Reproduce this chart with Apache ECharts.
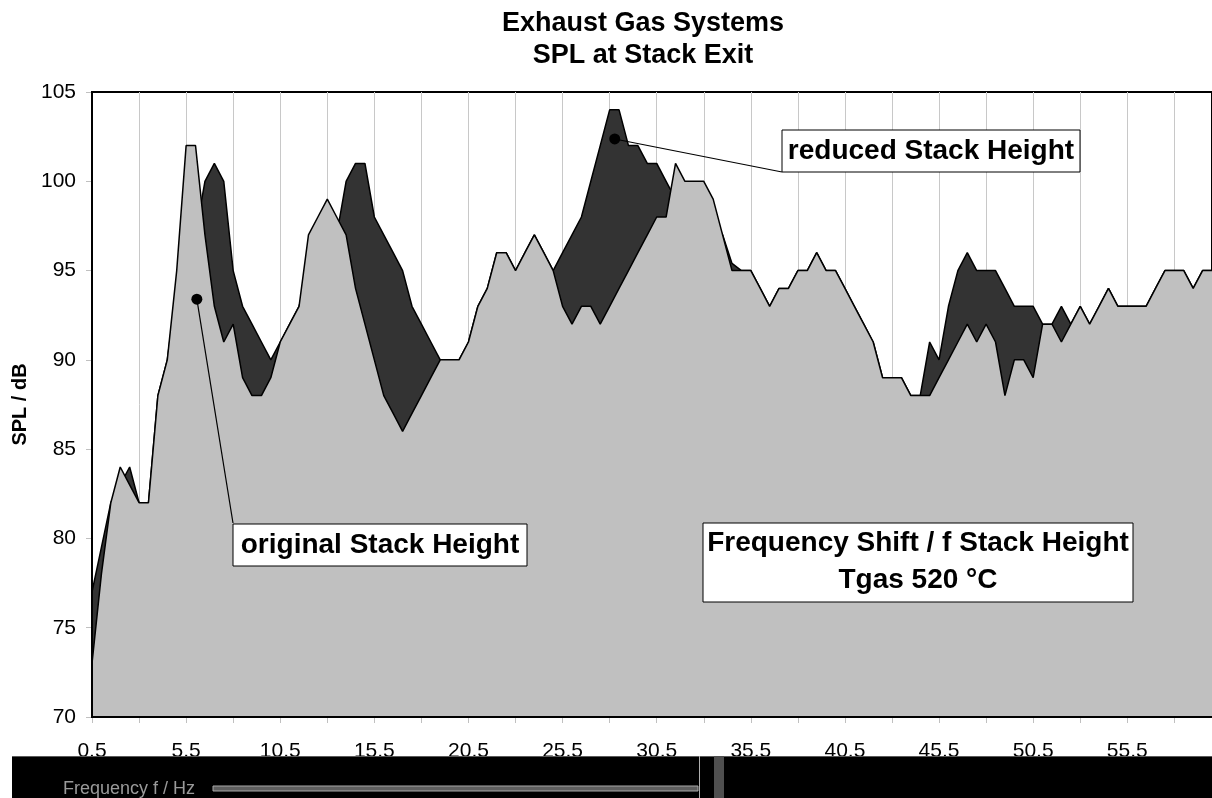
<!DOCTYPE html>
<html>
<head>
<meta charset="utf-8">
<script src="https://cdn.jsdelivr.net/npm/echarts@6/dist/echarts.min.js"></script>
<style>
html,body{margin:0;padding:0;background:#fff;}
#c{width:1212px;height:798px;}
</style>
</head>
<body>
<div id="c"></div>
<script>
// ---- data ----
const categories = [
 '0.5','1.0','1.5','2.0','2.5','3.0','3.5','4.0','4.5','5.0',
 '5.5','6.0','6.5','7.0','7.5','8.0','8.5','9.0','9.5','10.0',
 '10.5','11.0','11.5','12.0','12.5','13.0','13.5','14.0','14.5','15.0',
 '15.5','16.0','16.5','17.0','17.5','18.0','18.5','19.0','19.5','20.0',
 '20.5','21.0','21.5','22.0','22.5','23.0','23.5','24.0','24.5','25.0',
 '25.5','26.0','26.5','27.0','27.5','28.0','28.5','29.0','29.5','30.0',
 '30.5','31.0','31.5','32.0','32.5','33.0','33.5','34.0','34.5','35.0',
 '35.5','36.0','36.5','37.0','37.5','38.0','38.5','39.0','39.5','40.0',
 '40.5','41.0','41.5','42.0','42.5','43.0','43.5','44.0','44.5','45.0',
 '45.5','46.0','46.5','47.0','47.5','48.0','48.5','49.0','49.5','50.0',
 '50.5','51.0','51.5','52.0','52.5','53.0','53.5','54.0','54.5','55.0',
 '55.5','56.0','56.5','57.0','57.5','58.0','58.5','59.0','59.5','60.0'
];
const originalStack = [
 73,78,82,84,83,82,82,88,90,95,
 102,102,97,93,91,92,89,88,88,89,
 91,92,93,97,98,99,98,97,94,92,
 90,88,87,86,87,88,89,90,90,90,
 91,93,94,96,96,95,96,97,96,95,
 93,92,93,93,92,93,94,95,96,97,
 98,98,101,100,100,100,99,97,95,95,
 95,94,93,94,94,95,95,96,95,95,
 94,93,92,91,89,89,89,88,88,88,
 89,90,91,92,91,92,91,88,90,90,
 89,92,92,91,92,93,92,93,94,93,
 93,93,93,94,95,95,95,94,95,95
];
const reducedStack = [
 77,79.5,82,83,84,82,82,88,90,94,
 96,97,100,101,100,95,93,92,91,90,
 91,92,93,95,96,96,97,100,101,101,
 98,97,96,95,93,92,91,90,90,90,
 91,93,94,96,96,95,96,97,96,95,
 96,97,98,100,102,104,104,102,102,101,
 101,100,99,99,99,99,98,97,95.4,95,
 95,94,93,94,94,95,95,96,95,95,
 94,93,92,91,89,89,89,88,88,91,
 90,93,95,96,95,95,95,94,93,93,
 93,92,92,93,92,93,92,93,94,93,
 93,93,93,94,95,95,95,94,95,95
];
const yMin = 70, yMax = 105, yStep = 5;
const titleLines = ['Exhaust Gas Systems', 'SPL at Stack Exit'];
const xAxisName = 'Frequency f / Hz';
const yAxisName = 'SPL / dB';
// annotation anchors in data space: [Hz, dB]
const anchorOriginal = [6.07, 93.4];
const anchorReduced = [28.27, 102.37];

const FONT = '"Liberation Sans", Arial, Helvetica, sans-serif';

const chart = echarts.init(document.getElementById('c'), null, {renderer: 'canvas'});
chart.setOption({
  animation: false,
  backgroundColor: '#ffffff',
  grid: {left: 92, top: 92, right: -2, bottom: 81, show: true, backgroundColor: '#ffffff', borderColor: '#000', borderWidth: 2},
  xAxis: {
    type: 'category', data: categories, boundaryGap: false,
    axisLine: {show: true, lineStyle: {color: '#000', width: 2}},
    axisTick: {show: true, interval: 4, length: 6, lineStyle: {color: '#c0c0c0', width: 1}},
    axisLabel: {interval: 9, margin: 24, color: '#000', fontSize: 21, fontFamily: FONT},
    splitLine: {show: true, interval: 4, lineStyle: {color: '#c8c8c8', width: 1}}
  },
  yAxis: {
    type: 'value', min: yMin, max: yMax, interval: yStep,
    name: yAxisName, nameLocation: 'middle', nameGap: 54, nameRotate: 90,
    nameTextStyle: {fontSize: 20, fontWeight: 'bold', fontFamily: FONT, color: '#000'},
    axisLine: {show: true, lineStyle: {color: '#000', width: 2}},
    axisTick: {show: true, length: 6, lineStyle: {color: '#c0c0c0', width: 1}},
    axisLabel: {margin: 16, color: '#000', fontSize: 21, fontFamily: FONT},
    splitLine: {show: false}
  },
  series: [
    {name: 'reduced Stack Height', type: 'line', z: 2, data: reducedStack, symbol: 'none',
     lineStyle: {color: '#000', width: 1.5}, areaStyle: {color: '#333333', opacity: 1, origin: 'start'}},
    {name: 'original Stack Height', type: 'line', z: 4, data: originalStack, symbol: 'none',
     lineStyle: {color: '#000', width: 1.5}, areaStyle: {color: '#c0c0c0', opacity: 1, origin: 'start'}}
  ]
});

function toPx(hz, db) {
  const idx = (hz - 0.5) / 0.5;
  const i0 = Math.floor(idx);
  const p0 = chart.convertToPixel({gridIndex: 0}, [i0, db]);
  const p1 = chart.convertToPixel({gridIndex: 0}, [i0 + 1, db]);
  return [p0[0] + (idx - i0) * (p1[0] - p0[0]), p0[1]];
}

const bl = chart.convertToPixel({gridIndex: 0}, [0, yMin]);
const br = chart.convertToPixel({gridIndex: 0}, [categories.length - 1, yMin]);
const tl = chart.convertToPixel({gridIndex: 0}, [0, yMax]);
const dO = toPx(anchorOriginal[0], anchorOriginal[1]);
const dR = toPx(anchorReduced[0], anchorReduced[1]);

const boxFont = 'bold 28px ' + FONT;
const Z = 100;
chart.setOption({
  graphic: [
    // plot frame (left and bottom axis lines above the areas)
    {type: 'polyline', z: Z, shape: {points: [[tl[0], tl[1]], [bl[0], bl[1]], [br[0] + 4, br[1]]]}, style: {stroke: '#000', lineWidth: 2, fill: null}},
    // title
    {type: 'text', z: Z, style: {text: titleLines[0], x: 643, y: 24, align: 'center', verticalAlign: 'middle', textAlign: 'center', textVerticalAlign: 'middle', font: 'bold 27px ' + FONT, fill: '#000'}},
    {type: 'text', z: Z, style: {text: titleLines[1], x: 643, y: 56, align: 'center', verticalAlign: 'middle', textAlign: 'center', textVerticalAlign: 'middle', font: 'bold 27px ' + FONT, fill: '#000'}},
    // original stack height callout
    {type: 'line', z: Z, shape: {x1: 233, y1: 523, x2: dO[0], y2: dO[1]}, style: {stroke: '#000', lineWidth: 1.2}},
    {type: 'circle', z: Z, shape: {cx: dO[0], cy: dO[1], r: 5.5}, style: {fill: '#000'}},
    {type: 'rect', z: Z, shape: {x: 233, y: 524, width: 294, height: 42}, style: {fill: '#fff', stroke: '#000', lineWidth: 1}},
    {type: 'text', z: Z + 1, style: {text: 'original Stack Height', x: 380, y: 545, align: 'center', verticalAlign: 'middle', textAlign: 'center', textVerticalAlign: 'middle', font: boxFont, fill: '#000'}},
    // reduced stack height callout
    {type: 'line', z: Z, shape: {x1: 782, y1: 172, x2: dR[0], y2: dR[1]}, style: {stroke: '#000', lineWidth: 1.2}},
    {type: 'circle', z: Z, shape: {cx: dR[0], cy: dR[1], r: 5.5}, style: {fill: '#000'}},
    {type: 'rect', z: Z, shape: {x: 782, y: 130, width: 298, height: 42}, style: {fill: '#fff', stroke: '#000', lineWidth: 1}},
    {type: 'text', z: Z + 1, style: {text: 'reduced Stack Height', x: 931, y: 151, align: 'center', verticalAlign: 'middle', textAlign: 'center', textVerticalAlign: 'middle', font: boxFont, fill: '#000'}},
    // info box
    {type: 'rect', z: Z, shape: {x: 703, y: 523, width: 430, height: 79}, style: {fill: '#fff', stroke: '#000', lineWidth: 1}},
    {type: 'text', z: Z + 1, style: {text: 'Frequency Shift / f Stack Height\nTgas 520 °C', x: 918, y: 562, align: 'center', verticalAlign: 'middle', textAlign: 'center', textVerticalAlign: 'middle', lineHeight: 37, font: boxFont, fill: '#000'}},
    // dark band at the bottom of the reference
    {type: 'rect', z: Z, shape: {x: 12, y: 756, width: 1200, height: 42}, style: {fill: '#000'}},
    {type: 'line', z: Z + 1, shape: {x1: 12, y1: 756.5, x2: 1212, y2: 756.5}, style: {stroke: '#5a5a5a', lineWidth: 1}},
    {type: 'rect', z: Z + 1, shape: {x: 213, y: 786, width: 485, height: 5}, style: {fill: '#5e5e5e', stroke: '#a8a8a8', lineWidth: 1}},
    {type: 'line', z: Z + 1, shape: {x1: 699.5, y1: 756, x2: 699.5, y2: 798}, style: {stroke: '#b0b0b0', lineWidth: 1}},
    {type: 'rect', z: Z + 1, shape: {x: 714, y: 756, width: 10, height: 42}, style: {fill: '#4f4f4f'}},
    {type: 'text', z: Z + 1, style: {text: xAxisName, x: 63, y: 789, align: 'left', verticalAlign: 'middle', textAlign: 'left', textVerticalAlign: 'middle', font: '18px ' + FONT, fill: '#9a9a9a'}}
  ]
});
</script>
</body>
</html>
